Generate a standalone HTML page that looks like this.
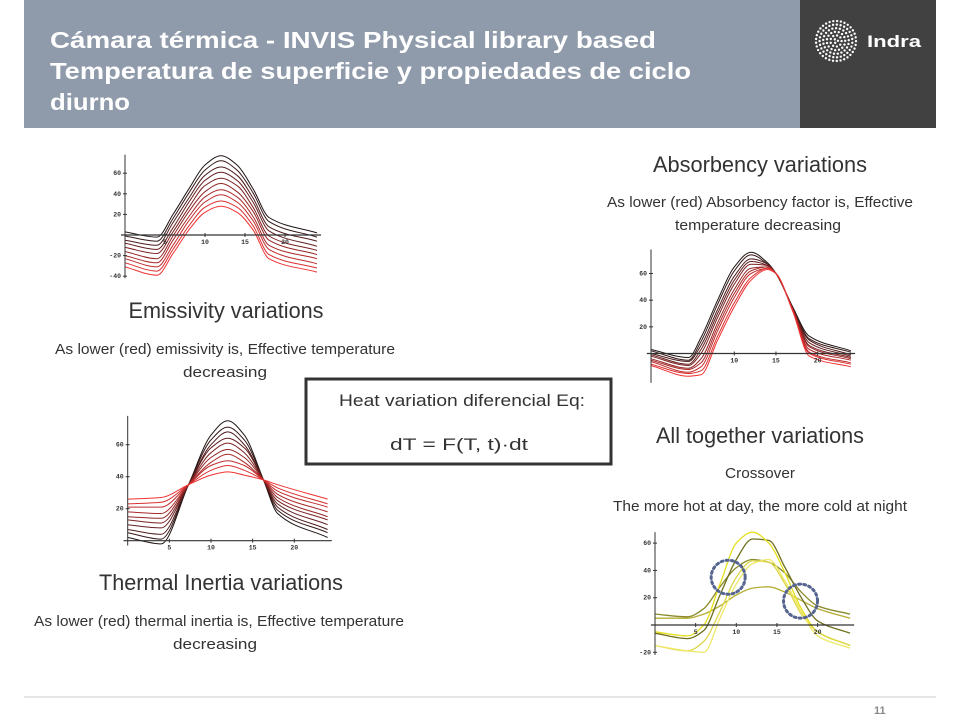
<!DOCTYPE html>
<html><head><meta charset="utf-8"><style>
html,body{margin:0;padding:0;background:#fff;}
svg{display:block;font-family:"Liberation Sans",sans-serif;}
</style></head><body>
<svg id="slide" width="960" height="720" viewBox="0 0 960 720" xmlns="http://www.w3.org/2000/svg">
<rect x="24" y="0" width="776" height="128" fill="#8f9bab"/>
<rect x="800" y="0" width="136" height="128" fill="#414141"/>
<g fill="#fff" font-weight="bold" font-size="23">
<text x="50" y="48" textLength="606" lengthAdjust="spacingAndGlyphs">Cámara térmica - INVIS Physical library based</text>
<text x="50" y="79" textLength="641" lengthAdjust="spacingAndGlyphs">Temperatura de superficie y propiedades de ciclo</text>
<text x="50" y="110" textLength="80" lengthAdjust="spacingAndGlyphs">diurno</text>
</g>
<g id="logo"></g>
<text x="867" y="47" fill="#fff" font-weight="bold" font-size="17" textLength="54" lengthAdjust="spacingAndGlyphs">Indra</text>

<g fill="#333" text-anchor="middle">
<text x="226" y="318" font-size="22" textLength="195" lengthAdjust="spacingAndGlyphs">Emissivity variations</text>
<text x="225" y="354" font-size="15" textLength="340" lengthAdjust="spacingAndGlyphs">As lower (red) emissivity is, Effective temperature</text>
<text x="225" y="377" font-size="15" textLength="84" lengthAdjust="spacingAndGlyphs">decreasing</text>
<text x="760" y="172" font-size="22" textLength="214" lengthAdjust="spacingAndGlyphs">Absorbency variations</text>
<text x="760" y="207" font-size="15" textLength="306" lengthAdjust="spacingAndGlyphs">As lower (red) Absorbency factor is, Effective</text>
<text x="758" y="230" font-size="15" textLength="166" lengthAdjust="spacingAndGlyphs">temperature decreasing</text>
<text x="760" y="443" font-size="22" textLength="208" lengthAdjust="spacingAndGlyphs">All together variations</text>
<text x="760" y="478" font-size="15" textLength="70" lengthAdjust="spacingAndGlyphs">Crossover</text>
<text x="760" y="511" font-size="15" textLength="294" lengthAdjust="spacingAndGlyphs">The more hot at day, the more cold at night</text>
<text x="221" y="590" font-size="22" textLength="244" lengthAdjust="spacingAndGlyphs">Thermal Inertia variations</text>
<text x="219" y="626" font-size="15" textLength="370" lengthAdjust="spacingAndGlyphs">As lower (red) thermal inertia is, Effective temperature</text>
<text x="215" y="649" font-size="15" textLength="84" lengthAdjust="spacingAndGlyphs">decreasing</text>
</g>

<g>
<rect x="306" y="379" width="305" height="85" fill="#fff" stroke="#333" stroke-width="3"/>
<text x="462" y="406" font-size="17" fill="#333" text-anchor="middle" textLength="246" lengthAdjust="spacingAndGlyphs">Heat variation diferencial Eq:</text>
<text x="459" y="450" font-size="17" fill="#333" text-anchor="middle" textLength="138" lengthAdjust="spacingAndGlyphs">dT = F(T, t)·dt</text>
</g>

<line x1="24" y1="697" x2="936" y2="697" stroke="#ccc" stroke-width="1"/>
<text x="874" y="714" font-size="11" font-weight="bold" fill="#888">11</text>
</svg>
<script>
// ---- Emissivity data ----
const emisHours = [0,4,6,8,10,12,14,16,18,24];
const emisS0 = [3,-2,20,45,68,77,68,45,17,2];
const emisS1 = [-1,-6,16,41,63,72,63,41,13,-2];
const emisS2 = [-5,-10,12,36,58,66,58,36,8,-6];
const emisS3 = [-8,-14,7,32,53,61,53,32,4,-11];
const emisS4 = [-12,-18,3,27,48,55,48,27,-1,-15];
const emisS5 = [-16,-23,-1,23,42,50,42,23,-5,-19];
const emisS6 = [-20,-27,-5,18,37,44,37,18,-10,-23];
const emisS7 = [-23,-31,-10,14,32,39,32,14,-14,-28];
const emisS8 = [-27,-35,-14,9,27,33,27,9,-19,-32];
const emisS9 = [-31,-39,-18,5,22,28,22,5,-23,-36];
const emisXTicks = [5,10,15,20];
const emisYTicks = [-40,-20,20,40,60];
// ---- Absorbency data ----
const absHours = [0,4.5,6,8,10,12,14,15,17,19,24];
const absS0 = [3,-3,12,40,65,76,68,60,35,13,2];
const absS1 = [2,-5,9,37,62,74,67,60,35,11,1];
const absS2 = [0,-6,6,33,58,71,67,60,34,10,-1];
const absS3 = [-1,-8,3,30,55,69,66,60,34,8,-2];
const absS4 = [-2,-9,0,27,52,67,66,60,34,6,-3];
const absS5 = [-4,-11,-4,23,48,64,65,60,33,5,-4];
const absS6 = [-5,-12,-7,20,45,62,65,60,33,3,-5];
const absS7 = [-6,-14,-10,17,42,60,64,60,33,1,-7];
const absS8 = [-8,-15,-13,13,38,57,64,60,32,0,-8];
const absS9 = [-9,-17,-16,10,35,55,63,60,32,-2,-10];
const absXTicks = [10,15,20];
const absYTicks = [20,40,60];
// ---- Thermal inertia data ----
const inHours = [0,4,7.3,10,12,14,16.3,18,24];
const inS0 = [2,-2,35,66,75,66,38,17,2];
const inS1 = [5,1,35,63,71,63,38,19,5];
const inS2 = [7,4,35,60,68,60,38,21,7];
const inS3 = [10,8,35,58,64,58,38,23,10];
const inS4 = [13,11,35,55,61,55,38,25,13];
const inS5 = [15,14,35,52,57,52,38,27,15];
const inS6 = [18,17,35,49,54,49,38,29,18];
const inS7 = [21,21,35,47,50,47,38,31,21];
const inS8 = [23,24,35,44,47,44,38,33,23];
const inS9 = [26,27,35,41,43,41,38,35,26];
const inXTicks = [5,10,15,20];
const inYTicks = [20,40,60];
// ---- All together data ----
const allHours = [0,4,6,8,10,12,14,16,18,20,24];
const allA = [8,6,12,28,42,48,46,38,24,14,8];
const allB = [5,5,8,14,22,27,28,24,18,12,5];
const allC = [-6,-10,-4,22,48,63,62,42,20,3,-6];
const allD = [-5,-8,0,30,60,68,60,38,12,-5,-15];
const allE = [-15,-19,-12,10,35,47,46,30,8,-5,-15];
const allF = [-15,-19,-20,5,30,45,48,32,10,-8,-17];
const allXTicks = [5,10,15,20];
const allYTicks = [-20,20,40,60];
const crossHours = [9, 17.9];
const crossTemps = [35, 17.5];

const NS = "http://www.w3.org/2000/svg";
const svg = document.getElementById('slide');
function mk(tag, attrs, parent){const e=document.createElementNS(NS,tag);for(const k in attrs)e.setAttribute(k,attrs[k]);(parent||svg).appendChild(e);return e;}
// monotone cubic (Fritsch-Carlson), no overshoot
function smooth(pts){
  const n=pts.length, dx=[], m=[], t=[];
  for(let i=0;i<n-1;i++){dx.push(pts[i+1][0]-pts[i][0]);m.push((pts[i+1][1]-pts[i][1])/dx[i]);}
  t[0]=m[0]; t[n-1]=m[n-2];
  for(let i=1;i<n-1;i++){ if(m[i-1]*m[i]<=0) t[i]=0; else { const w1=2*dx[i]+dx[i-1], w2=dx[i]+2*dx[i-1]; t[i]=(w1+w2)/(w1/m[i-1]+w2/m[i]); } }
  let d='M'+pts[0][0].toFixed(1)+','+pts[0][1].toFixed(1);
  for(let i=0;i<n-1;i++){
    const h=dx[i]/3;
    d+='C'+(pts[i][0]+h).toFixed(1)+','+(pts[i][1]+t[i]*h).toFixed(1)+' '+(pts[i+1][0]-h).toFixed(1)+','+(pts[i+1][1]-t[i+1]*h).toFixed(1)+' '+pts[i+1][0].toFixed(1)+','+pts[i+1][1].toFixed(1);
  }
  return d;
}
function chart(name,c){
  const g=mk('g',{});
  
  
  const X=h=>c.x0+h*c.sx, Y=v=>c.y0-v*c.sy;
  c.series.forEach((s,i)=>{
    const p=mk('path',{d:smooth(c.hours.map((h,j)=>[X(h),Y(s[j])])),fill:'none',stroke:c.colors[i],'stroke-width':c.sw||1},g);
    
    
  });
  const xa=mk('line',{x1:X(-0.5),x2:X(24.5),y1:Y(0),y2:Y(0),stroke:'#333','stroke-width':1.2},g);
  
  
  const ya=mk('line',{x1:X(0),x2:X(0),y1:Y(c.ymin),y2:Y(c.ymax),stroke:'#333','stroke-width':1},g);
  
  
  c.xt.forEach(t=>{
    mk('line',{x1:X(t),x2:X(t),y1:Y(0)-2,y2:Y(0)+2,stroke:'#333'},g);
    const tx=mk('text',{x:X(t),y:Y(0)+9,'font-size':6.5,'font-weight':'bold',fill:'#333','text-anchor':'middle','font-family':'Liberation Mono, monospace'},g);
    tx.textContent=t;
    
    
  });
  c.yt.forEach(t=>{
    mk('line',{x1:X(0)-2,x2:X(0)+2,y1:Y(t),y2:Y(t),stroke:'#333'},g);
    const tx=mk('text',{x:X(0)-4,y:Y(t)+2,'font-size':6.5,'font-weight':'bold',fill:'#333','text-anchor':'end','font-family':'Liberation Mono, monospace'},g);
    tx.textContent=t;
    
    
  });
  return {g,X,Y};
}
function ramp(n){const a=[];for(let i=0;i<n;i++){const f=i/(n-1);a.push('rgb('+Math.round(30+f*210)+','+Math.round(20+f*30)+','+Math.round(20+f*30)+')');}return a;}

chart('emissivity-chart',{x0:125,y0:235,sx:8,sy:1.03,ymin:-42,ymax:78,hours:emisHours,
  series:[emisS0,emisS1,emisS2,emisS3,emisS4,emisS5,emisS6,emisS7,emisS8,emisS9],colors:ramp(10),xt:emisXTicks,yt:emisYTicks});
chart('absorbency-chart',{x0:651,y0:353.5,sx:8.33,sy:1.333,ymin:-22,ymax:78,hours:absHours,
  series:[absS0,absS1,absS2,absS3,absS4,absS5,absS6,absS7,absS8,absS9],colors:ramp(10),xt:absXTicks,yt:absYTicks});
chart('inertia-chart',{x0:127.7,y0:540.7,sx:8.33,sy:1.6,ymin:-3,ymax:78,hours:inHours,
  series:[inS0,inS1,inS2,inS3,inS4,inS5,inS6,inS7,inS8,inS9],colors:ramp(10),xt:inXTicks,yt:inYTicks});
const all=chart('all-together-chart',{x0:655,y0:625,sx:8.13,sy:1.365,ymin:-22,ymax:68,hours:allHours,sw:1.3,
  series:[allA,allB,allC,allD,allE,allF],colors:['#8a8a2a','#b5ad35','#6f6f1e','#e6df1c','#ded64a','#efe866'],xt:allXTicks,yt:allYTicks});
crossHours.forEach((h,i)=>{
  const c=mk('circle',{cx:all.X(h),cy:all.Y(crossTemps[i]),r:17,fill:'none',stroke:'#55658f','stroke-width':3,'stroke-dasharray':'2 3.2','stroke-linecap':'round'},all.g);
  
  
});
// logo dots
const logo=document.getElementById('logo');
for(let r=2;r<=20;r+=3.6){const n=Math.max(1,Math.round(2*Math.PI*r/3.8));for(let k=0;k<n;k++){const a=k/n*2*Math.PI+r;mk('circle',{cx:836+r*Math.cos(a),cy:41+r*Math.sin(a),r:1.2,fill:'#fff'},logo);}}
</script>
</body></html>
